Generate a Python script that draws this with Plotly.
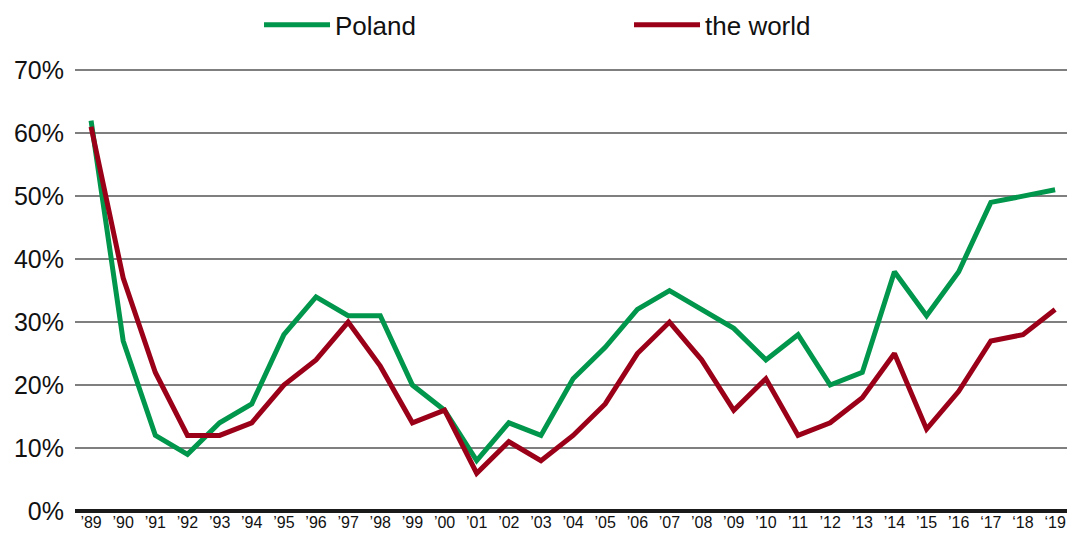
import plotly.graph_objects as go

years = ["’89", "’90", "’91", "’92", "’93", "’94", "’95", "’96", "’97", "’98",
         "’99", "’00", "’01", "’02", "’03", "’04", "’05", "’06", "’07", "’08",
         "’09", "’10", "’11", "’12", "’13", "’14", "’15", "’16", "‘17", "‘18", "‘19"]
poland = [62, 27, 12, 9, 14, 17, 28, 34, 31, 31,
          20, 16, 8, 14, 12, 21, 26, 32, 35, 32,
          29, 24, 28, 20, 22, 38, 31, 38, 49, 50, 51]
world = [61, 37, 22, 12, 12, 14, 20, 24, 30, 23,
         14, 16, 6, 11, 8, 12, 17, 25, 30, 24,
         16, 21, 12, 14, 18, 25, 13, 19, 27, 28, 32]
y_ticks = [0, 10, 20, 30, 40, 50, 60, 70]
y_labels = [f"{v}%" for v in y_ticks]

green = "#00964B"
red = "#9B0019"

fig = go.Figure()
fig.add_trace(go.Scatter(x=years, y=poland, name="Poland", mode="lines",
                         line=dict(color=green, width=5), cliponaxis=False))
fig.add_trace(go.Scatter(x=years, y=world, name="the world", mode="lines",
                         line=dict(color=red, width=5), cliponaxis=False))

fig.update_layout(
    width=1067, height=542,
    margin=dict(l=75, r=0, t=67, b=31, autoexpand=False),
    paper_bgcolor="white", plot_bgcolor="white",
    font=dict(family="Liberation Sans, Arial, sans-serif", color="#111111"),
    showlegend=True,
    legend=dict(orientation="h", x=0.1855, xanchor="left",
                y=1.095, yref="paper", yanchor="middle",
                font=dict(size=26), entrywidth=289,
                entrywidthmode="pixels", itemwidth=66, traceorder="normal",
                bgcolor="rgba(0,0,0,0)"),
    xaxis=dict(type="category", range=[-0.5, 30.37], showgrid=False,
               ticks="", tickfont=dict(size=16), showline=False,
               automargin=False, fixedrange=True),
    yaxis=dict(range=[0, 70.5], tickvals=y_ticks, ticktext=y_labels,
               showgrid=True,
               gridcolor="#7f7f7f", gridwidth=1.5, zeroline=True,
               zerolinecolor="#1a1a1a", zerolinewidth=4, ticks="",
               tickfont=dict(size=25), ticklabelstandoff=10, automargin=False),
)

fig.write_html(
    "out.html",
    config={"displayModeBar": False},
    post_script="document.body.style.margin='0';document.body.style.overflow='hidden';",
)
